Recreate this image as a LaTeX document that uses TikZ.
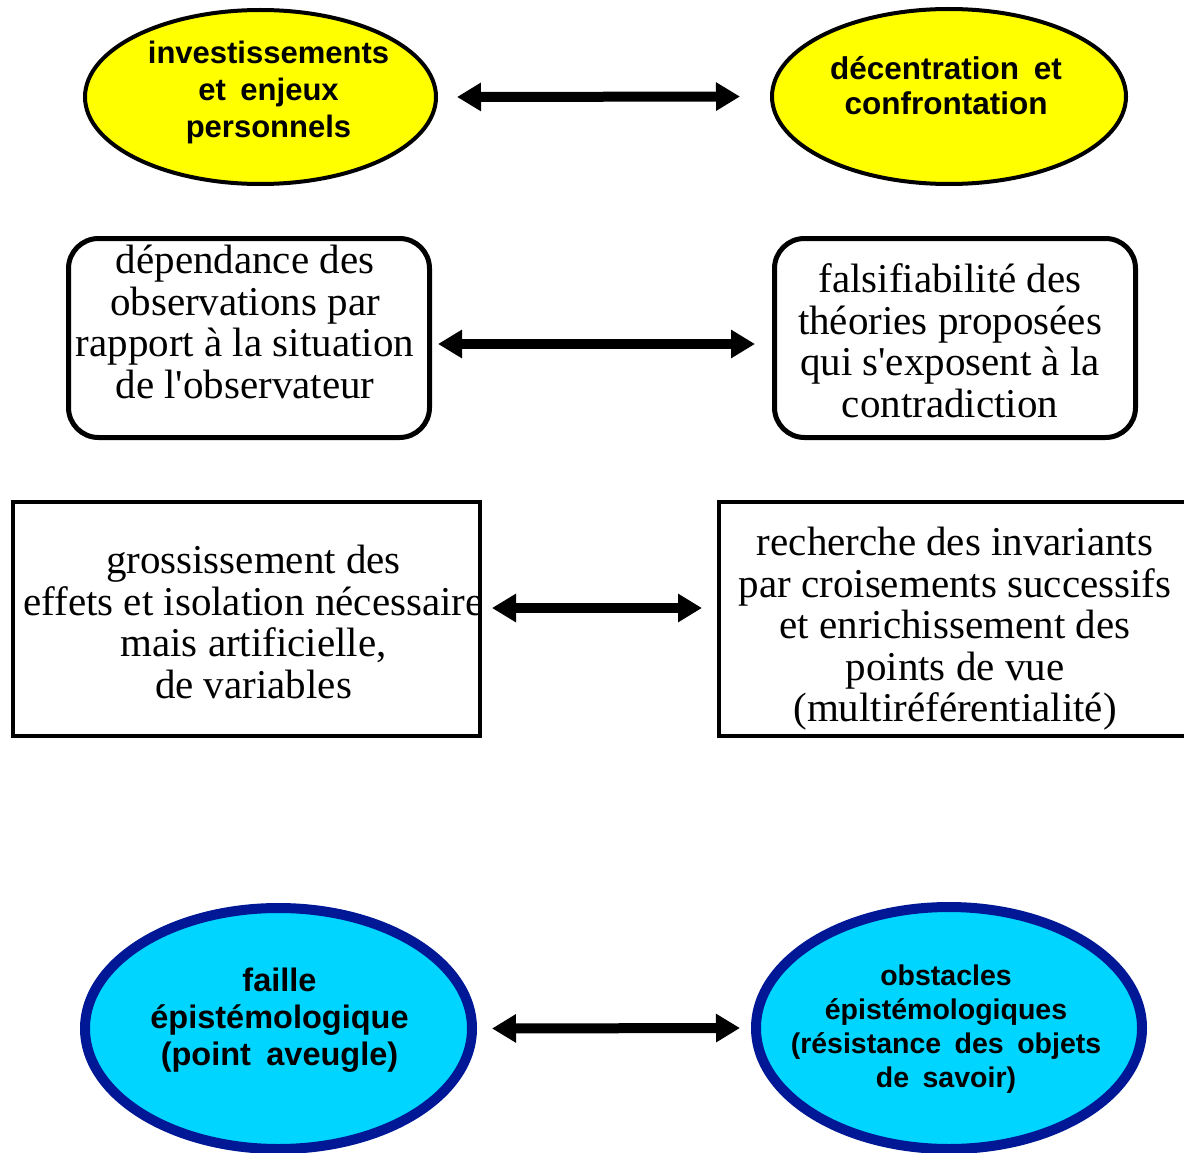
\documentclass[tikz,border=0pt]{standalone}
\usepackage{fontspec}
\setmainfont{Liberation Serif}[Ligatures=TeXOff]
\newfontfamily\arialfont{Liberation Sans}[WordSpace=1.7]
\usepackage{tikz}
\usetikzlibrary{positioning}
\usetikzlibrary{shapes.geometric}
\usetikzlibrary{arrows.meta}
\definecolor{bubyellow}{RGB}{255,255,0}
\definecolor{bubcyan}{RGB}{0,213,255}
\definecolor{bubnavy}{RGB}{0,24,150}

\begin{document}
\begin{tikzpicture}[
x=1pt, y=-1pt,
yellownode/.style={ellipse, draw=black, line width=4pt, fill=bubyellow, inner sep=0pt},
bluenode/.style={ellipse, draw=bubnavy, line width=10pt, fill=bubcyan, inner sep=0pt},
roundbox/.style={rectangle, rounded corners=30pt, draw, line width=5pt, minimum width=361pt, minimum height=199pt, inner sep=0pt},
squarebox/.style={rectangle, draw, line width=4pt, minimum height=234pt, inner sep=0pt},
sanstext/.style={font=\arialfont\bfseries\fontsize{31}{37}\selectfont, align=center},
smallsans/.style={font=\arialfont\bfseries\fontsize{28.5}{34}\selectfont, align=center},
seriftext/.style={font=\fontsize{41}{41.5}\selectfont, align=center},
dblarrow/.style={{Triangle[length=24pt,width=27pt]}-{Triangle[length=24pt,width=27pt]}, line width=10pt},
]
\useasboundingbox (0,0) rectangle (1184,1153);

%Nodes
\node[yellownode, minimum width=351pt, minimum height=174pt,
  label={[sanstext, xshift=8pt, yshift=5pt]center:{investissements\\et enjeux\\personnels}}]
  (invest) at (260.5,97) {};
\node[yellownode, minimum width=354pt, minimum height=175pt,
  label={[sanstext, font=\arialfont\bfseries\fontsize{31.5}{35}\selectfont, xshift=-3pt, yshift=11pt]center:{décentration et\\confrontation}}]
  (decentr) at (949,96.5) {};

\node[roundbox,
  label={[seriftext, xshift=-4pt, yshift=16pt]center:{dépendance des\\observations par\\rapport à la situation\\de l'observateur}}]
  (depend) at (249,338) {};
\node[roundbox,
  label={[seriftext, xshift=-5pt, yshift=-3pt]center:{falsifiabilité des\\théories proposées\\qui s'exposent à la\\contradiction}}]
  (falsif) at (955,338) {};

\node[squarebox, minimum width=467pt,
  label={[seriftext, xshift=7pt, yshift=-3pt]center:{grossissement des\\effets et isolation nécessaire\\mais artificielle,\\de variables}}]
  (grossis) at (246.5,619) {};
\node[squarebox, minimum width=480pt,
  label={[seriftext, xshift=-4pt, yshift=-10pt]center:{recherche des invariants\\par croisements successifs\\et enrichissement des\\points de vue\\(multiréférentialité)}}]
  (recherche) at (959,619) {};

\node[bluenode, minimum width=387pt, minimum height=241pt,
  label={[sanstext, font=\arialfont\bfseries\fontsize{32.5}{37}\selectfont, xshift=1pt, yshift=8pt]center:{faille\\épistémologique\\(point aveugle)}}]
  (faille) at (278.5,1028.5) {};
\node[bluenode, minimum width=386pt, minimum height=242pt,
  label={[smallsans, xshift=-3pt, yshift=-1pt]center:{obstacles\\épistémologiques\\(résistance des objets\\de savoir)}}]
  (obstacles) at (949,1028) {};

%Lines
\draw[dblarrow, shorten <=19pt, shorten >=30pt] (invest.east) -- (decentr.west);
\draw[dblarrow, shorten <=6pt, shorten >=17pt] ([yshift=-6pt]depend.east) -- ([yshift=-6pt]falsif.west);
\draw[dblarrow, shorten <=10pt, shorten >=15pt] ([yshift=11pt]grossis.east) -- ([yshift=11pt]recherche.west);
\draw[dblarrow, shorten <=15pt, shorten >=11pt] (faille.east) -- (obstacles.west);
\end{tikzpicture}
\end{document}
